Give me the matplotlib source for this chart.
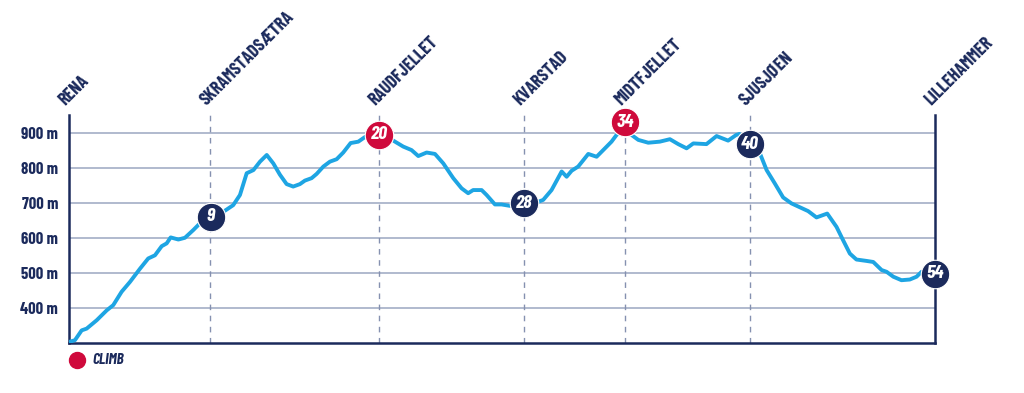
import matplotlib
matplotlib.use("Agg")
import matplotlib.pyplot as plt

# ---- data ----
km = [0.0, 0.37, 0.79, 1.1, 1.73, 2.35, 2.76, 3.28, 3.80, 4.43, 4.94, 5.36, 5.78, 6.09,
      6.34, 6.82, 7.23, 7.75, 8.27, 8.83, 9.62, 10.24, 10.66, 11.08, 11.5, 11.91, 12.33,
      12.74, 13.15, 13.57, 13.98, 14.4, 14.71, 15.13, 15.44, 15.86, 16.27, 16.69, 17.1,
      17.56, 18.04, 18.45, 19.0, 19.35, 19.7, 20.22, 20.84, 21.36, 21.78, 22.3, 22.82,
      23.34, 23.96, 24.48, 24.89, 25.2, 25.73, 26.04, 26.56, 26.97, 27.49, 28.37, 29.0,
      29.57, 30.09, 30.72, 31.03, 31.34, 31.75, 32.38, 32.9, 33.42, 33.83, 34.14, 34.4,
      34.66, 35.08, 35.5, 36.12, 36.84, 37.47, 37.99, 38.51, 38.93, 39.75, 40.38, 41.1,
      41.6, 41.8, 42.46, 43.08, 43.29, 43.5, 44.01, 44.53, 45.05, 45.57, 46.09, 46.61,
      47.28, 47.86, 48.27, 48.69, 49.1, 49.73, 50.15, 50.67, 50.98, 51.4, 51.91, 52.43,
      52.85, 53.16, 53.6, 54.0]
elevation = [303, 308, 336, 341, 365, 393, 408, 446, 474, 512, 541, 550, 576, 584,
             601, 595, 600, 622, 646, 660, 674, 693, 722, 784, 793, 817, 836,
             812, 780, 753, 746, 753, 763, 770, 782, 803, 817, 824, 843,
             870, 874, 887, 897, 900, 892, 877, 860, 850, 833, 843, 839,
             812, 770, 741, 727, 736, 736, 722, 695, 695, 691, 696, 698,
             708, 736, 789, 774, 791, 803, 839, 831, 855, 874, 893, 902,
             903, 893, 879, 871, 874, 881, 867, 855, 869, 867, 890, 877,
             893, 896, 868, 841, 817, 793, 755, 715, 698, 687, 676, 658,
             669, 631, 593, 555, 538, 534, 531, 508, 503, 489, 479, 481,
             489, 503, 497, 498]

place_names = ["RENA", "SKRAMSTADSÆTRA", "RAUDFJELLET", "KVARSTAD", "MIDTFJELLET",
               "SJUSJØEN", "LILLEHAMMER"]
place_km = [0.0, 8.8, 19.35, 28.37, 34.66, 42.46, 54.0]

marker_labels = ["9", "20", "28", "34", "40", "54"]
marker_km = [8.83, 19.35, 28.37, 34.66, 42.46, 54.0]
marker_elev = [660, 893, 698, 930, 867, 498]
marker_is_climb = [False, True, False, True, False, False]

y_ticks = [400, 500, 600, 700, 800, 900]
y_tick_labels = ["400 m", "500 m", "600 m", "700 m", "800 m", "900 m"]
legend_label = "CLIMB"

# ---- style ----
NAVY = "#1b2a5c"
BLUE = "#1ea5e3"
RED = "#cf0a3c"
GRID = "#aab4ca"
DASH = "#8591b0"
FONT = ["Barlow Condensed", "DejaVu Sans"]

fig = plt.figure(figsize=(10.24, 3.93), dpi=100)
ax = fig.add_axes([69 / 1024, 50 / 393, 866 / 1024, 228 / 393])
ax.set_xlim(0, 54)
ax.set_ylim(300, 950)

for s in ["left", "bottom", "right"]:
    ax.spines[s].set_color(NAVY)
    ax.spines[s].set_linewidth(1.8)
ax.spines["top"].set_visible(False)

ax.set_xticks([])
ax.set_yticks(y_ticks)
ax.set_yticklabels(y_tick_labels, fontfamily=FONT, fontweight="bold",
                   fontsize=12, color=NAVY)
ax.tick_params(axis="y", length=0, pad=8)
for yv in y_ticks:
    ax.axhline(yv, color=GRID, lw=1.3, zorder=1)

for k in place_km[1:-1]:
    ax.axvline(k, color=DASH, lw=1.0, ls=(0, (4, 4)), zorder=1)

ax.plot(km, elevation, color=BLUE, lw=2.8, zorder=3, solid_joinstyle="round")

for lab, k, e, climb in zip(marker_labels, marker_km, marker_elev, marker_is_climb):
    ax.plot(k, e, "o", ms=20.5, color=RED if climb else NAVY, mec="white", mew=0.8,
            zorder=5, clip_on=False)
    ax.text(k, e, lab, color="white", ha="center", va="center", fontsize=14,
            fontweight="bold", style="italic", fontfamily=FONT, zorder=6)

for name, k in zip(place_names, place_km):
    ax.annotate(name, xy=(k, 1), xycoords=("data", "axes fraction"),
                xytext=(-4, 9), textcoords="offset pixels", rotation=45,
                rotation_mode="anchor", ha="left", va="baseline",
                fontsize=13, fontweight="bold", color=NAVY, fontfamily=FONT,
                annotation_clip=False)

ax.plot(0.0092, -0.0746, "o", ms=11.5, color=RED, transform=ax.transAxes,
        clip_on=False)
ax.text(0.0266, -0.0746, legend_label, transform=ax.transAxes, ha="left",
        va="center", fontsize=11, fontweight="bold", style="italic",
        color=NAVY, fontfamily=FONT)

fig.savefig("out.png", dpi=100)
